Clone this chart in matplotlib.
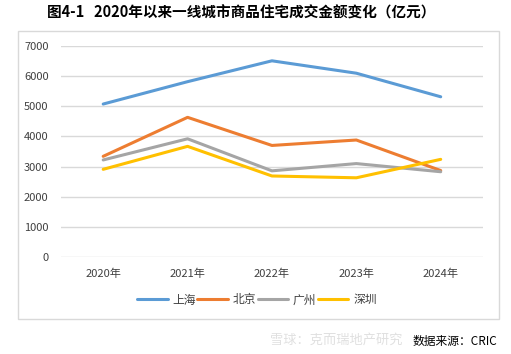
import numpy as np
import matplotlib
matplotlib.use('Agg')
import matplotlib.pyplot as plt
from matplotlib.patches import Rectangle

plt.rcParams['font.family'] = ['Noto Sans CJK SC', 'DejaVu Sans']

# data (亿元)
years = ['2020年', '2021年', '2022年', '2023年', '2024年']
shanghai = [5070, 5810, 6500, 6090, 5310]
beijing = [3340, 4630, 3700, 3880, 2870]
guangzhou = [3220, 3920, 2860, 3100, 2830]
shenzhen = [2910, 3670, 2690, 2630, 3240]
cities = ['上海', '北京', '广州', '深圳']
colors = ['#5B9BD5', '#ED7D31', '#A5A5A5', '#FFC000']
yticks = np.arange(0, 7001, 1000)

fig = plt.figure(figsize=(5.11, 3.54), dpi=100)
ax = fig.add_axes([0.1194, 0.2732, 0.8256, 0.5977])

# chart border
fig.patches.append(Rectangle((18 / 511, 1 - 319 / 354), 481 / 511, 288 / 354,
                             transform=fig.transFigure, fill=False,
                             edgecolor='#D9D9D9', linewidth=1))

x = np.arange(len(years))
for vals, name, c in zip([shanghai, beijing, guangzhou, shenzhen], cities, colors):
    ax.plot(x, vals, color=c, linewidth=2.2, label=name, solid_capstyle='round')

ax.set_xlim(-0.5, len(years) - 0.5)
ax.set_ylim(0, 7000)
ax.set_yticks(yticks)
ax.set_yticklabels([str(v) for v in yticks])
ax.set_xticks(x)
ax.set_xticklabels(years)
ax.grid(axis='y', color='#D9D9D9', linewidth=1)
ax.set_axisbelow(True)
for s in ax.spines.values():
    s.set_visible(False)
ax.tick_params(axis='both', length=0, labelsize=8, colors='#404040')
ax.tick_params(axis='y', pad=9)
ax.tick_params(axis='x', pad=8)

fig.legend(loc='center', bbox_to_anchor=(257 / 511, 1 - 300 / 354), ncol=4,
           frameon=False, fontsize=8.5, handlelength=2.6, columnspacing=0.1,
           handletextpad=0.4, labelcolor='#404040')

fig.text(241 / 511, 1 - 13 / 354, '图4-1   2020年以来一线城市商品住宅成交金额变化（亿元）',
         ha='center', va='center', fontsize=10.5, fontweight='bold')
fig.text(336 / 511, 1 - 340 / 354, '雪球：克而瑞地产研究', ha='center', va='center',
         fontsize=9.5, color='#E0E0E0')
fig.text(497 / 511, 1 - 341 / 354, '数据来源：CRIC', ha='right', va='center',
         fontsize=8.5, color='black')

fig.savefig('out.png', dpi=100)
